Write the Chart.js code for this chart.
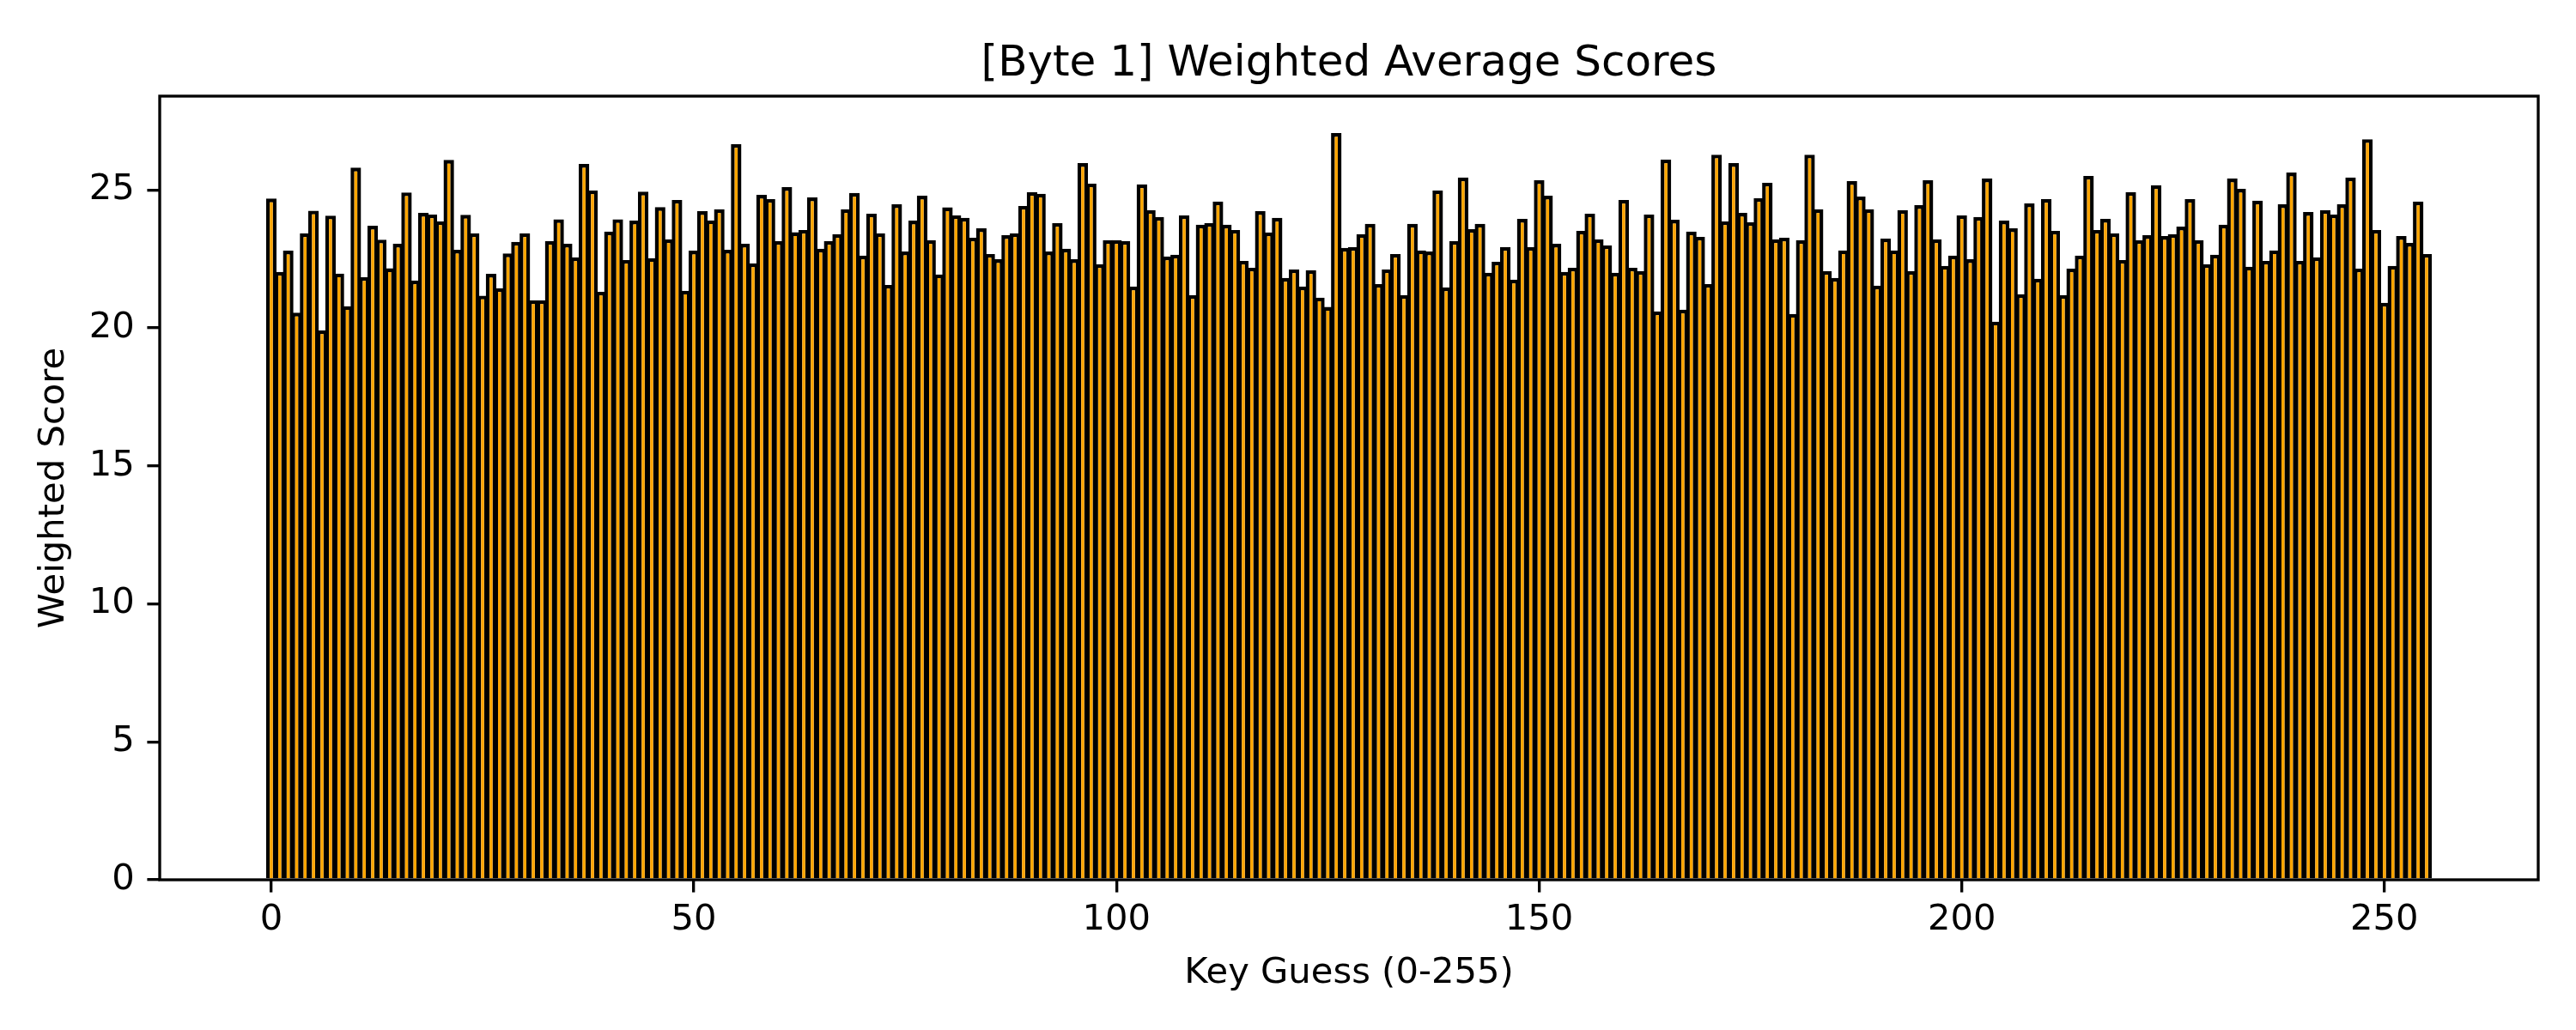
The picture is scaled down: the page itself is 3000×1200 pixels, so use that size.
<!DOCTYPE html>
<html>
<head>
<meta charset="utf-8">
<script src="https://cdn.jsdelivr.net/npm/chart.js@4.4.1/dist/chart.umd.min.js"></script>
<style>
  html, body { margin: 0; padding: 0; background: #ffffff; }
  #wrap { width: 3000px; height: 1200px; }
  canvas { display: block; }
</style>
</head>
<body>
<div id="wrap"><canvas id="c" width="3000" height="1200"></canvas></div>
<script>
// ---- data ----
const chartTitle = '[Byte 1] Weighted Average Scores';
const xAxisTitle = 'Key Guess (0-255)';
const yAxisTitle = 'Weighted Score';

const keyGuesses = Array.from({ length: 256 }, (_, i) => i);

const scores0 = [24.69, 22.03, 22.80, 20.55, 23.43, 24.25, 19.91, 24.07, 21.97, 20.79, 25.81, 21.84, 23.70, 23.20, 22.16, 23.05,
                 24.91, 21.72, 24.17, 24.11, 23.86, 26.09, 22.83, 24.10, 23.43, 21.17, 21.96, 21.44, 22.70, 23.12, 23.43, 21.00];
const scores1 = [21.00, 23.15, 23.94, 23.05, 22.56, 25.94, 24.98, 21.31, 23.49, 23.94, 22.46, 23.89, 24.94, 22.53, 24.38, 23.21,
                 24.64, 21.35, 22.80, 24.23, 23.90, 24.30, 22.83, 26.66, 23.05, 22.34, 24.82, 24.67, 23.15, 25.10, 23.47, 23.55];
const scores2 = [24.73, 22.87, 23.15, 23.40, 24.30, 24.89, 22.62, 24.14, 23.43, 21.56, 24.48, 22.77, 23.89, 24.79, 23.18, 21.94,
                 24.37, 24.08, 23.99, 23.27, 23.61, 22.68, 22.49, 23.36, 23.43, 24.42, 24.92, 24.86, 22.77, 23.80, 22.87, 22.49];
const scores3 = [25.97, 25.23, 22.31, 23.18, 23.18, 23.15, 21.50, 25.20, 24.27, 24.02, 22.59, 22.65, 24.08, 21.19, 23.74, 23.80,
                 24.58, 23.74, 23.55, 22.43, 22.18, 24.23, 23.46, 23.99, 21.81, 22.12, 21.50, 22.09, 21.10, 20.76, 27.06, 22.90];
const scores4 = [22.93, 23.40, 23.77, 21.59, 22.12, 22.68, 21.19, 23.77, 22.81, 22.77, 24.98, 21.47, 23.15, 25.45, 23.58, 23.77,
                 22.00, 22.40, 22.93, 21.75, 23.95, 22.93, 25.35, 24.79, 23.05, 22.03, 22.18, 23.52, 24.14, 23.21, 22.99, 22.00];
const scores5 = [24.64, 22.18, 22.06, 24.11, 20.60, 26.10, 23.92, 20.66, 23.49, 23.30, 21.59, 26.28, 23.86, 25.97, 24.17, 23.83,
                 24.70, 25.26, 23.21, 23.27, 20.51, 23.18, 26.28, 24.30, 22.06, 21.81, 22.81, 25.32, 24.76, 24.30, 21.53, 23.24];
const scores6 = [22.81, 24.27, 22.06, 24.45, 25.35, 23.21, 22.25, 22.62, 24.08, 22.49, 24.02, 25.41, 20.23, 23.89, 23.61, 21.22,
                 24.51, 21.78, 24.67, 23.52, 21.19, 22.15, 22.62, 25.51, 23.55, 23.95, 23.43, 22.46, 24.92, 23.18, 23.36, 25.17];
const scores7 = [23.33, 23.40, 23.67, 24.67, 23.18, 22.31, 22.65, 23.74, 25.41, 25.04, 22.22, 24.61, 22.43, 22.81, 24.48, 25.63,
                 22.43, 24.20, 22.56, 24.27, 24.11, 24.48, 25.45, 22.15, 26.84, 23.55, 20.91, 22.25, 23.33, 23.08, 24.58, 22.68];
const scores = [].concat(scores0, scores1, scores2, scores3, scores4, scores5, scores6, scores7);

const xTickValues = [0, 50, 100, 150, 200, 250];
const yTickValues = [0, 5, 10, 15, 20, 25];
const xRange = [-13.2, 268.2];
const yRange = [0, 28.4];

// ---- styling ----
const FONT = 'DejaVu Sans';
const LW = 3.33;        // 0.8pt spine / tick width at 300 dpi
const TICK_LEN = 14.6;  // 3.5pt
const EDGE = 4.4;       // bar edge line width

const boxPlugin = {
  id: 'axesBox',
  afterDatasetsDraw(chart) {
    const { ctx, chartArea: a } = chart;
    ctx.save();
    ctx.strokeStyle = '#000000';
    ctx.lineWidth = LW;
    ctx.lineJoin = 'miter';
    ctx.strokeRect(a.left, a.top, a.right - a.left, a.bottom - a.top);
    ctx.restore();
  }
};

new Chart(document.getElementById('c'), {
  type: 'bar',
  data: {
    labels: keyGuesses,
    datasets: [{
      data: scores,
      backgroundColor: '#FFA500',
      borderColor: '#000000',
      borderWidth: EDGE,
      barThickness: 7.87 + EDGE,
      inflateAmount: 0
    }]
  },
  options: {
    responsive: false,
    animation: false,
    devicePixelRatio: 1,
    layout: { padding: { left: 0, right: 44, top: 0, bottom: 0 } },
    plugins: {
      legend: { display: false },
      tooltip: { enabled: false },
      title: {
        display: true,
        text: chartTitle,
        fullSize: false,
        color: '#000000',
        font: { family: FONT, size: 50, weight: 'normal', lineHeight: 1.2 },
        padding: { top: 45.4, bottom: 6.6 }
      }
    },
    scales: {
      x: {
        type: 'linear',
        min: xRange[0],
        max: xRange[1],
        offset: false,
        afterBuildTicks: (axis) => { axis.ticks = xTickValues.map(v => ({ value: v })); },
        afterFit: (axis) => { axis.height = 175; },
        ticks: {
          color: '#000000',
          font: { family: FONT, size: 41.7, lineHeight: 1.2 },
          padding: 8,
          maxRotation: 0,
          autoSkip: false,
          callback: (v) => String(v)
        },
        grid: {
          display: true,
          offset: false,
          drawOnChartArea: false,
          drawTicks: true,
          tickLength: TICK_LEN,
          color: '#000000',
          lineWidth: LW
        },
        border: { display: false },
        title: {
          display: true,
          text: xAxisTitle,
          color: '#000000',
          font: { family: FONT, size: 41.7, lineHeight: 1.2 },
          padding: { top: 0, bottom: 41 }
        }
      },
      y: {
        type: 'linear',
        min: yRange[0],
        max: yRange[1],
        afterBuildTicks: (axis) => { axis.ticks = yTickValues.map(v => ({ value: v })); },
        afterFit: (axis) => { axis.width = 186; },
        ticks: {
          color: '#000000',
          font: { family: FONT, size: 41.7, lineHeight: 1.2 },
          padding: 14.6,
          autoSkip: false,
          callback: (v) => String(v)
        },
        grid: {
          display: true,
          offset: false,
          drawOnChartArea: false,
          drawTicks: true,
          tickLength: TICK_LEN,
          color: '#000000',
          lineWidth: LW
        },
        border: { display: false },
        title: {
          display: true,
          text: yAxisTitle,
          color: '#000000',
          font: { family: FONT, size: 41.7, lineHeight: 1.2 },
          padding: { top: 38, bottom: 0 }
        }
      }
    }
  },
  plugins: [boxPlugin]
});
</script>
</body>
</html>
